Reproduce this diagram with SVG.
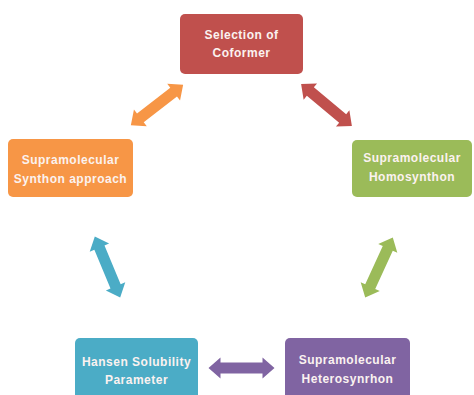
<svg xmlns="http://www.w3.org/2000/svg" width="474" height="395" viewBox="0 0 474 395">
<defs>
<style>
.box{stroke:none}
.t{font-family:"Liberation Sans",Arial,sans-serif;font-size:12px;font-weight:bold;fill:#fbf2f0;text-anchor:middle;letter-spacing:0.5px}
</style>
<polygon id="dar" points="-33,0 -21,-10.5 -21,-5.5 21,-5.5 21,-10.5 33,0 21,10.5 21,5.5 -21,5.5 -21,10.5"/>
</defs>
<rect width="474" height="395" fill="#ffffff"/>
<g id="connectors">
<use href="#dar" fill="#f79646" transform="translate(157,105) rotate(-37.6)"/>
<use href="#dar" fill="#c0504d" transform="translate(326.5,105) rotate(39.7)"/>
<use href="#dar" fill="#4bacc6" transform="translate(107.5,267) rotate(67.4)"/>
<use href="#dar" fill="#9bbb59" transform="translate(379,267.5) rotate(-65.3)"/>
<use href="#dar" fill="#8064a2" transform="translate(241.5,368)"/>
</g>
<g id="selection">
<rect class="box" x="180" y="14" width="123" height="60" rx="5" fill="#c0504d"/>
<text class="t" x="241.5" y="39">Selection of</text>
<text class="t" x="241.5" y="57">Coformer</text>
</g>
<g id="synthon">
<rect class="box" x="8" y="139" width="125" height="58" rx="5" fill="#f79646"/>
<text class="t" x="70.5" y="164">Supramolecular</text>
<text class="t" x="70.5" y="183">Synthon approach</text>
</g>
<g id="homosynthon">
<rect class="box" x="352" y="140" width="120" height="57" rx="5" fill="#9bbb59"/>
<text class="t" x="412" y="162">Supramolecular</text>
<text class="t" x="412" y="181">Homosynthon</text>
</g>
<g id="hansen">
<rect class="box" x="75" y="338" width="123" height="65" rx="5" fill="#4bacc6"/>
<text class="t" x="136.5" y="366">Hansen Solubility</text>
<text class="t" x="136.5" y="384">Parameter</text>
</g>
<g id="heterosynthon">
<rect class="box" x="285" y="338" width="125" height="65" rx="5" fill="#8064a2"/>
<text class="t" x="347.5" y="364">Supramolecular</text>
<text class="t" x="347.5" y="383">Heterosynrhon</text>
</g>
</svg>
